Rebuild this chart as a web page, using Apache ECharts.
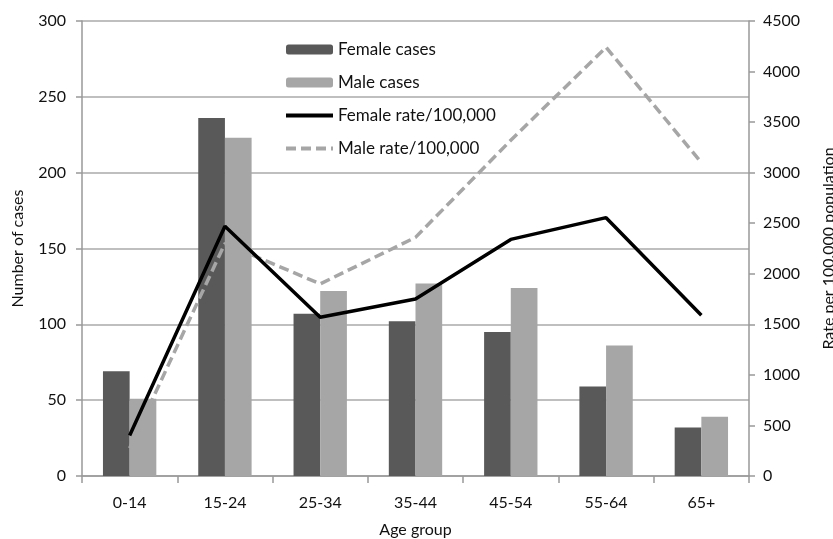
<!DOCTYPE html>
<html><head><meta charset="utf-8">
<script src="https://cdn.jsdelivr.net/npm/echarts@6/dist/echarts.min.js"></script>
<style>html,body{margin:0;padding:0;background:#fff;}#c{width:833px;height:539px;}</style>
</head><body><div id="c"></div>
<script>
var categories = ['0-14','15-24','25-34','35-44','45-54','55-64','65+'];
var femaleCases = [69, 236, 107, 102, 95, 59, 32];
var maleCases = [51, 223, 122, 127, 124, 86, 39];
var femaleRate = [400, 2470, 1570, 1750, 2340, 2555, 1590];
var maleRate = [275, 2300, 1900, 2360, 3320, 4240, 3100];

var FONT = 'Lato';
var chart = echarts.init(document.getElementById('c'));
chart.setOption({
  animation: false,
  textStyle: {fontFamily: FONT, color: '#111'},
  grid: {left: 82, right: 84, top: 21, bottom: 63, containLabel: false, outerBoundsMode: 'none'},
  legend: {
    orient: 'vertical', left: 279, top: 36,
    itemWidth: 47, itemHeight: 10, itemGap: 16,
    textStyle: {fontFamily: FONT, fontSize: 17, color: '#111'},
    data: [
      {name: 'Female cases'},
      {name: 'Male cases'},
      {name: 'Female rate/100,000', itemStyle: {opacity: 0}, lineStyle: {width: 4}},
      {name: 'Male rate/100,000', itemStyle: {opacity: 0}, lineStyle: {width: 4}}
    ]
  },
  xAxis: {
    type: 'category', data: categories,
    name: 'Age group', nameLocation: 'middle', nameGap: 46,
    nameTextStyle: {fontFamily: FONT, fontSize: 16, color: '#111'},
    axisLine: {lineStyle: {color: '#999', width: 1.5}},
    axisTick: {show: true, length: 7, lineStyle: {color: '#999', width: 1.5}},
    axisLabel: {fontFamily: FONT, fontSize: 16, color: '#111', margin: 19}
  },
  yAxis: [
    {
      type: 'value', min: 0, max: 300, interval: 50,
      name: 'Number of cases', nameLocation: 'middle', nameGap: 56, nameRotate: 90,
      nameTextStyle: {fontFamily: FONT, fontSize: 16, color: '#111'},
      axisLine: {show: true, lineStyle: {color: '#999', width: 1.5}},
      axisTick: {show: true, length: 6, lineStyle: {color: '#999', width: 1.5}},
      axisLabel: {fontFamily: FONT, fontSize: 16, color: '#111', margin: 16},
      splitLine: {show: true, lineStyle: {color: '#aaa', width: 1.5}}
    },
    {
      type: 'value', min: 0, max: 4500, interval: 500, position: 'right',
      name: 'Rate per 100,000 population', nameLocation: 'middle', nameGap: 72, nameRotate: 90,
      nameTextStyle: {fontFamily: FONT, fontSize: 16, color: '#111'},
      axisLine: {show: true, lineStyle: {color: '#999', width: 1.5}},
      axisTick: {show: true, length: 6, lineStyle: {color: '#999', width: 1.5}},
      axisLabel: {fontFamily: FONT, fontSize: 16, color: '#111', margin: 14,
        formatter: function (v) { return String(v); }},
      splitLine: {show: false}
    }
  ],
  series: [
    {name: 'Female cases', type: 'bar', data: femaleCases, barGap: '0%', barCategoryGap: '44%',
     itemStyle: {color: '#595959'}},
    {name: 'Male cases', type: 'bar', data: maleCases, barGap: '0%', barCategoryGap: '44%',
     itemStyle: {color: '#a6a6a6'}},
    {name: 'Female rate/100,000', type: 'line', yAxisIndex: 1, data: femaleRate, symbol: 'none', z: 4,
     lineStyle: {color: '#000', width: 3.5}, itemStyle: {color: '#000'}},
    {name: 'Male rate/100,000', type: 'line', yAxisIndex: 1, data: maleRate, symbol: 'none', z: 3,
     lineStyle: {color: '#a6a6a6', width: 3.5, type: [10, 5]}, itemStyle: {color: '#a6a6a6'}}
  ]
});
</script></body></html>
